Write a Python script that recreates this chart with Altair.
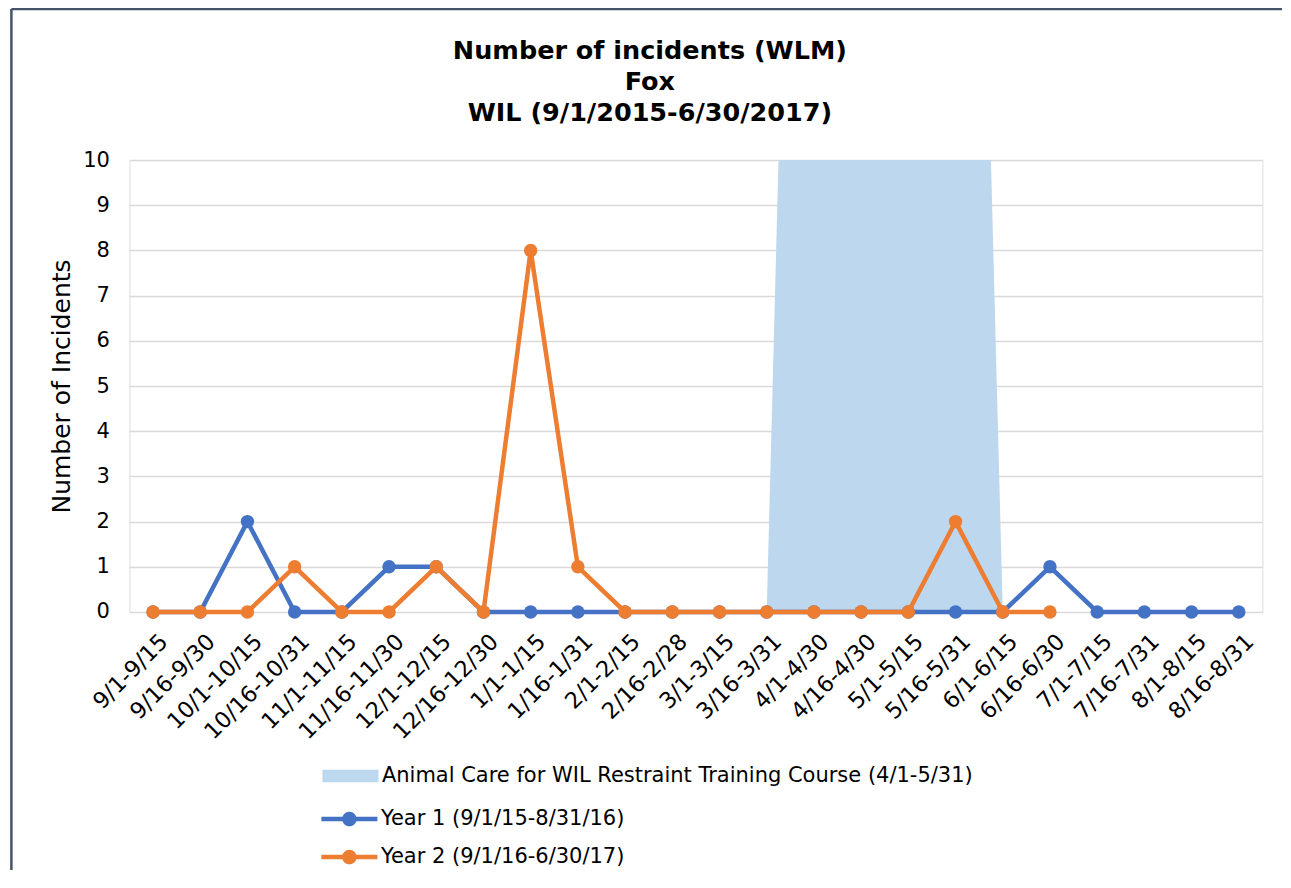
import altair as alt
import pandas as pd

periods = ["9/1-9/15", "9/16-9/30", "10/1-10/15", "10/16-10/31", "11/1-11/15",
           "11/16-11/30", "12/1-12/15", "12/16-12/30", "1/1-1/15", "1/16-1/31",
           "2/1-2/15", "2/16-2/28", "3/1-3/15", "3/16-3/31", "4/1-4/30",
           "4/16-4/30", "5/1-5/15", "5/16-5/31", "6/1-6/15", "6/16-6/30",
           "7/1-7/15", "7/16-7/31", "8/1-8/15", "8/16-8/31"]
year1 = [0, 0, 2, 0, 0, 1, 1, 0, 0, 0, 0, 0, 0, 0, 0, 0, 0, 0, 0, 1, 0, 0, 0, 0]
year2 = [0, 0, 0, 1, 0, 0, 1, 0, 8, 1, 0, 0, 0, 0, 0, 0, 0, 2, 0, 0,
         None, None, None, None]
course = [None] * 13 + [0, 40, 40, 40, 40, 0] + [None] * 5

course_label = "Animal Care for WIL Restraint Training Course (4/1-5/31)"
y1_label = "Year 1 (9/1/15-8/31/16)"
y2_label = "Year 2 (9/1/16-6/30/17)"

FONT = "DejaVu Sans"
BLUE = "#4472C4"
ORANGE = "#ED7D31"
AREA = "#BDD7EE"

df_area = pd.DataFrame({"period": periods, "value": course, "series": course_label}).dropna()
df_lines = pd.concat([
    pd.DataFrame({"period": periods, "value": year1, "series": y1_label}),
    pd.DataFrame({"period": periods, "value": year2, "series": y2_label}),
]).dropna()

xscale = alt.Scale(type="point", domain=periods, padding=0.5)
yscale = alt.Scale(domain=[0, 10], nice=False)

x_enc = alt.X("period:N", scale=xscale, title=None,
              axis=alt.Axis(labelAngle=-45, labelAlign="right", labelBaseline="top",
                            labelPadding=18, labelOffset=3, labelFontSize=22.5,
                            labelFont=FONT, labelColor="#000000", grid=False,
                            domain=False, ticks=False, labelOverlap=False))
y_enc = alt.Y("value:Q", scale=yscale, title="Number of Incidents",
              axis=alt.Axis(values=list(range(11)), labelFontSize=21, labelFont=FONT,
                            labelColor="#000000", labelPadding=20, domain=False,
                            ticks=False, tickSize=0, grid=True, gridColor="#D9D9D9",
                            gridWidth=1.5, titleFont=FONT, titleFontSize=25,
                            titleFontWeight="normal", titleColor="#000000",
                            titlePadding=8))

rect_path = "M-1,-0.22L1,-0.22L1,0.22L-1,0.22Z"
line_path = ("M-1,-0.08L1,-0.08L1,0.08L-1,0.08Z"
             "M-0.26,0A0.26,0.26 0 1,1 0.26,0A0.26,0.26 0 1,1 -0.26,0Z")

area = alt.Chart(df_area).mark_area(opacity=1, clip=True).encode(
    x=x_enc,
    y=y_enc,
    fill=alt.Fill("series:N",
                  scale=alt.Scale(domain=[course_label], range=[AREA]),
                  legend=alt.Legend(title=None, orient="none", legendX=193, legendY=588,
                                    symbolType=rect_path, symbolSize=3136,
                                    symbolStrokeWidth=0, labelFontSize=21, labelFont=FONT,
                                    labelColor="#000000", labelLimit=1000,
                                    labelOffset=3.5, padding=0)),
)

color_enc = alt.Color("series:N",
                      scale=alt.Scale(domain=[y1_label, y2_label], range=[BLUE, ORANGE]),
                      legend=alt.Legend(title=None, orient="none", legendX=192, legendY=631,
                                        symbolType=line_path, symbolSize=3136,
                                        symbolStrokeWidth=0, rowPadding=-16,
                                        labelFontSize=21, labelFont=FONT,
                                        labelColor="#000000", labelLimit=1000,
                                        labelOffset=3.5, padding=0))

def series_layer(label):
    base = alt.Chart(df_lines).transform_filter(alt.datum.series == label)
    line = base.mark_line(strokeWidth=4.5).encode(x=x_enc, y=y_enc, color=color_enc)
    pts = base.mark_circle(size=180, opacity=1).encode(x=x_enc, y=y_enc, color=color_enc)
    return line + pts

one = pd.DataFrame({"f": [0]})
frame_left = alt.Chart(one).mark_rule(stroke="#44546A", strokeWidth=2.5).encode(
    x=alt.value(-118), y=alt.value(-151), y2=alt.value(715))
frame_top = alt.Chart(one).mark_rule(stroke="#44546A", strokeWidth=2.5).encode(
    x=alt.value(-118), x2=alt.value(1153), y=alt.value(-151))

chart = alt.layer(
    frame_left, frame_top, area, series_layer(y1_label), series_layer(y2_label)
).resolve_scale(fill="independent").properties(
    width=1133, height=452,
    autosize=alt.AutoSizeParams(type="none"),
    padding={"left": 121.4, "top": 152, "right": 20, "bottom": 258},
    title=alt.TitleParams(
        text=["Number of incidents (WLM)", "Fox", "WIL (9/1/2015-6/30/2017)"],
        font=FONT, fontSize=25.5, fontWeight="bold", color="#000000",
        anchor="middle", dx=-46, dy=139, lineHeight=31, offset=0,
        baseline="alphabetic"),
).configure_view(stroke=None).configure(background="white")

chart.save("out.html", embed_options={"renderer": "svg", "actions": False})
